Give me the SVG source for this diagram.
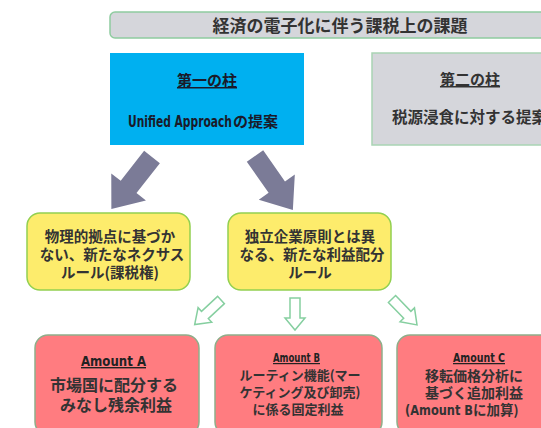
<svg xmlns="http://www.w3.org/2000/svg" width="541" height="428" viewBox="0 0 541 428">
<style>
.jp{font-family:"Noto Sans CJK JP","Noto Sans",sans-serif;font-weight:bold;fill:#333;text-anchor:middle}
.nar{font-family:"DejaVu Sans Condensed","Liberation Sans",sans-serif;font-weight:bold;fill:#222}
.ul{text-decoration:underline}
.yel{fill:#fdec6c;stroke:#92d050;stroke-width:1.5}
.red{fill:#ff7c80;stroke:#8fae8a;stroke-width:1.5}
.big{fill:#7b7b97}
.hol{fill:#fff;stroke:#86cfa0;stroke-width:1.5;stroke-linejoin:miter}
</style>
<rect width="541" height="428" fill="#fff"/>
<g id="title">
<rect x="110" y="12" width="445" height="26" rx="5" fill="#d5d6db" stroke="#8fcca0" stroke-width="1.5"/>
<text class="jp" x="340" y="32" font-size="17" fill="#404040">経済の電子化に伴う課税上の課題</text>
</g>
<g id="pillar1">
<rect x="110" y="53" width="194" height="92" fill="#00b0f0"/>
<text class="jp ul" x="207" y="86" font-size="15" style="fill:#1a1a2a">第一の柱</text>
<text class="nar" x="128" y="127" font-size="15" textLength="104" lengthAdjust="spacingAndGlyphs" style="fill:#1a1a2a">Unified Approach</text>
<text class="jp" x="233" y="127" font-size="15" style="fill:#1a1a2a;text-anchor:start">の提案</text>
</g>
<g id="pillar2">
<rect x="372" y="53" width="185" height="92" fill="#d5d6db" stroke="#a9d4b4" stroke-width="1.5"/>
<text class="jp ul" x="470" y="85" font-size="15">第二の柱</text>
<text class="jp" x="392" y="123" font-size="15.5" style="text-anchor:start">税源浸食に対する提案</text>
</g>
<g id="connectors">
<path class="big" d="M0,-10 L38,-10 L38,-22 L66,0 L38,22 L38,10 L0,10 Z" transform="translate(152,157) rotate(128)"/>
<path class="big" d="M0,-10 L38,-10 L38,-22 L66,0 L38,22 L38,10 L0,10 Z" transform="translate(255,156) rotate(55)"/>
<path class="hol" d="M0,-5 L22,-5 L22,-10 L36,0 L22,10 L22,5 L0,5 Z" transform="translate(221,300) rotate(137)"/>
<path class="hol" d="M290,298 L300,298 L300,318 L305,318 L295,330 L285,318 L290,318 Z"/>
<path class="hol" d="M0,-5 L22,-5 L22,-10 L36,0 L22,10 L22,5 L0,5 Z" transform="translate(392,299) rotate(46)"/>
</g>
<g id="nexus">
<rect class="yel" x="27" y="213" width="163" height="77" rx="13"/>
<text class="jp" x="110" y="242" font-size="14.5">物理的拠点に基づか</text>
<text class="jp" x="112" y="260" font-size="14.5">ない、新たなネクサス</text>
<text class="jp" x="110" y="278" font-size="14.5">ルール(課税権)</text>
</g>
<g id="profit">
<rect class="yel" x="228" y="213" width="163" height="77" rx="13"/>
<text class="jp" x="310" y="242" font-size="14.5">独立企業原則とは異</text>
<text class="jp" x="312" y="260" font-size="14.5">なる、新たな利益配分</text>
<text class="jp" x="310" y="278" font-size="14.5">ルール</text>
</g>
<g id="amountA">
<rect class="red" x="35" y="335" width="164" height="100" rx="13"/>
<text class="nar ul" x="81" y="366" font-size="14" textLength="65" lengthAdjust="spacingAndGlyphs">Amount A</text>
<text class="jp" x="114" y="391" font-size="16">市場国に配分する</text>
<text class="jp" x="116" y="411" font-size="16">みなし残余利益</text>
</g>
<g id="amountB">
<rect class="red" x="215" y="335" width="167" height="100" rx="13"/>
<text class="nar ul" x="273" y="362" font-size="12" textLength="47" lengthAdjust="spacingAndGlyphs">Amount B</text>
<text class="jp" x="300" y="380" font-size="13">ルーティン機能(マー</text>
<text class="jp" x="300" y="397" font-size="13">ケティング及び卸売)</text>
<text class="jp" x="298" y="414" font-size="13">に係る固定利益</text>
</g>
<g id="amountC">
<rect class="red" x="397" y="335" width="160" height="100" rx="13"/>
<text class="nar ul" x="453" y="362" font-size="12.5" textLength="52" lengthAdjust="spacingAndGlyphs">Amount C</text>
<text class="jp" x="474" y="381" font-size="14">移転価格分析に</text>
<text class="jp" x="474" y="398" font-size="14">基づく追加利益</text>
<text class="nar" x="405" y="415" font-size="13.5" textLength="68" lengthAdjust="spacingAndGlyphs" style="fill:#333">(Amount B</text>
<text class="jp" x="473" y="415" font-size="13.5" style="text-anchor:start">に加算)</text>
</g>
</svg>
